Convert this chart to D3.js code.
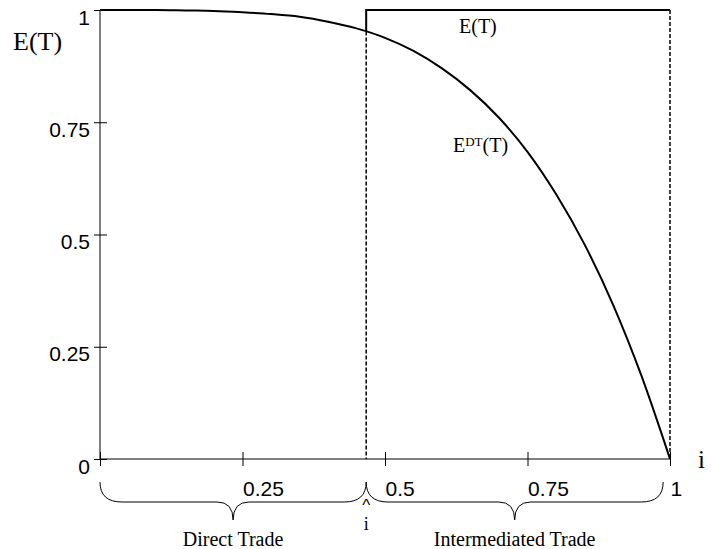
<!DOCTYPE html>
<html>
<head>
<meta charset="utf-8">
<script src="https://cdn.jsdelivr.net/npm/d3@7"></script>
<style>
  body { margin: 0; background: #fff; }
  svg { display: block; }
  .tick text { font-family: "Liberation Sans", Arial, sans-serif; font-size: 21px; fill: #000; }
  .serif { font-family: "Liberation Serif", "Times New Roman", serif; fill: #000; }
</style>
</head>
<body>
<svg id="canvas"></svg>
<script>
// curve E^DT(T)
let iValues = [0, 0.05, 0.1, 0.15, 0.2, 0.25, 0.3, 0.35, 0.4, 0.45, 0.5, 0.55, 0.6, 0.65, 0.7, 0.75, 0.8, 0.85, 0.9, 0.95, 1];
let eDTValues = [1, 1, 1, 0.999, 0.998, 0.995, 0.991, 0.985, 0.974, 0.959, 0.938, 0.909, 0.870, 0.821, 0.760, 0.684, 0.590, 0.478, 0.344, 0.185, 0];

// threshold i-hat and E(T) step
let iHat = 0.467;
let eDTAtHat = 0.952;
let eTLevel = 1;

let xTicks = [0, 0.25, 0.5, 0.75, 1];
let xTickLabels = ['', '0.25', '0.5', '0.75', '1'];
let yTicks = [0, 0.25, 0.5, 0.75, 1];
let yTickLabels = ['0', '0.25', '0.5', '0.75', '1'];

// brace ranges under the axis
let braceRanges = [[0, iHat], [iHat, 0.988]];
let braceLabels = ['Direct Trade', 'Intermediated Trade'];

let width = 712;
let height = 549;

let canvas = d3.select('#canvas')
canvas.attr('width', width)
canvas.attr('height', height)

let xScale = d3.scaleLinear().domain([0, 1]).range([100, 670])
let yScale = d3.scaleLinear().domain([0, 1]).range([459, 10])

let drawAxis = () => {
    let xAxis = d3.axisBottom(xScale)
        .tickValues(xTicks)
        .tickSize(7)
        .tickFormat((d, i) => xTickLabels[i])

    let gx = canvas.append('g')
        .attr('transform', 'translate(0,' + yScale(0) + ')')
        .call(xAxis)
    gx.select('.domain').attr('d', 'M' + xScale(0) + ',0H' + xScale(1)).attr('stroke', '#000')
    gx.selectAll('.tick line').attr('y1', -7).attr('stroke', '#000')
    gx.selectAll('.tick text')
        .attr('text-anchor', 'start')
        .attr('y', 37)
        .attr('dy', 0)

    let yAxis = d3.axisLeft(yScale)
        .tickValues(yTicks)
        .tickSize(6)
        .tickFormat((d, i) => yTickLabels[i])

    let gy = canvas.append('g')
        .attr('transform', 'translate(' + xScale(0) + ',0)')
        .call(yAxis)
    gy.select('.domain').attr('d', 'M0,' + yScale(0) + 'V' + yScale(1)).attr('stroke', '#000')
    gy.selectAll('.tick line').attr('x1', 7).attr('stroke', '#000')
    gy.selectAll('.tick text')
        .attr('x', -10)
        .attr('y', 14)
        .attr('dy', 0)
}

let drawLines = () => {
    let points = iValues.map((d, i) => [d, eDTValues[i]])

    let line = d3.line()
        .x(d => xScale(d[0]))
        .y(d => yScale(d[1]))
        .curve(d3.curveMonotoneX)

    canvas.append('path')
        .datum(points)
        .attr('d', line)
        .attr('fill', 'none')
        .attr('stroke', '#000')
        .attr('stroke-width', 2)

    // E(T): jump at i-hat then flat at 1
    let step = [[iHat, eDTAtHat], [iHat, eTLevel], [1, eTLevel]]
    canvas.append('path')
        .datum(step)
        .attr('d', d3.line().x(d => xScale(d[0])).y(d => yScale(d[1])))
        .attr('fill', 'none')
        .attr('stroke', '#000')
        .attr('stroke-width', 2)

    // dashed drop lines
    let drops = [[iHat, eDTAtHat], [1, eTLevel]]
    canvas.selectAll('.drop')
        .data(drops)
        .enter()
        .append('line')
        .attr('class', 'drop')
        .attr('x1', d => xScale(d[0]))
        .attr('x2', d => xScale(d[0]))
        .attr('y1', d => yScale(d[1]))
        .attr('y2', yScale(0))
        .attr('stroke', '#000')
        .attr('stroke-width', 1.5)
        .attr('stroke-dasharray', '4,2')
}

let bracePath = (a, b) => {
    let x1 = xScale(a), x2 = xScale(b), m = (x1 + x2) / 2
    let y0 = 482, y1 = 502, y2 = 520
    let r = 22, rc = 16
    return 'M' + x1 + ',' + y0 +
        'Q' + x1 + ',' + y1 + ' ' + (x1 + r) + ',' + y1 +
        'L' + (m - rc) + ',' + y1 +
        'Q' + m + ',' + y1 + ' ' + m + ',' + y2 +
        'Q' + m + ',' + y1 + ' ' + (m + rc) + ',' + y1 +
        'L' + (x2 - r) + ',' + y1 +
        'Q' + x2 + ',' + y1 + ' ' + x2 + ',' + y0
}

let drawBraces = () => {
    canvas.selectAll('.brace')
        .data(braceRanges)
        .enter()
        .append('path')
        .attr('class', 'brace')
        .attr('d', d => bracePath(d[0], d[1]))
        .attr('fill', 'none')
        .attr('stroke', '#000')
        .attr('stroke-width', 1)

    canvas.selectAll('.braceLabel')
        .data(braceRanges)
        .enter()
        .append('text')
        .attr('class', 'serif braceLabel')
        .attr('x', d => (xScale(d[0]) + xScale(d[1])) / 2)
        .attr('y', 546)
        .attr('text-anchor', 'middle')
        .attr('font-size', 20)
        .text((d, i) => braceLabels[i])
}

let drawLabels = () => {
    canvas.append('text').attr('class', 'serif')
        .attr('x', 13).attr('y', 50).attr('font-size', 26)
        .text('E(T)')

    canvas.append('text').attr('class', 'serif')
        .attr('x', 698).attr('y', 468).attr('font-size', 25)
        .text('i')

    canvas.append('text').attr('class', 'serif')
        .attr('x', 459).attr('y', 33).attr('font-size', 20)
        .text('E(T)')

    let edt = canvas.append('text').attr('class', 'serif')
        .attr('x', 453).attr('y', 152).attr('font-size', 20)
    edt.append('tspan').text('E')
    edt.append('tspan').attr('font-size', 13).attr('dy', -6).text('DT')
    edt.append('tspan').attr('dy', 6).text('(T)')

    // i-hat below the axis: caret over a dotted i
    canvas.append('text')
        .attr('font-family', '"Liberation Sans", Arial, sans-serif')
        .attr('x', xScale(iHat)).attr('y', 511).attr('font-size', 17)
        .attr('text-anchor', 'middle')
        .text('^')
    canvas.append('text').attr('class', 'serif')
        .attr('x', xScale(iHat)).attr('y', 530).attr('font-size', 18)
        .attr('text-anchor', 'middle')
        .text('i')
}

drawAxis();
drawLines();
drawBraces();
drawLabels();
</script>
</body>
</html>
